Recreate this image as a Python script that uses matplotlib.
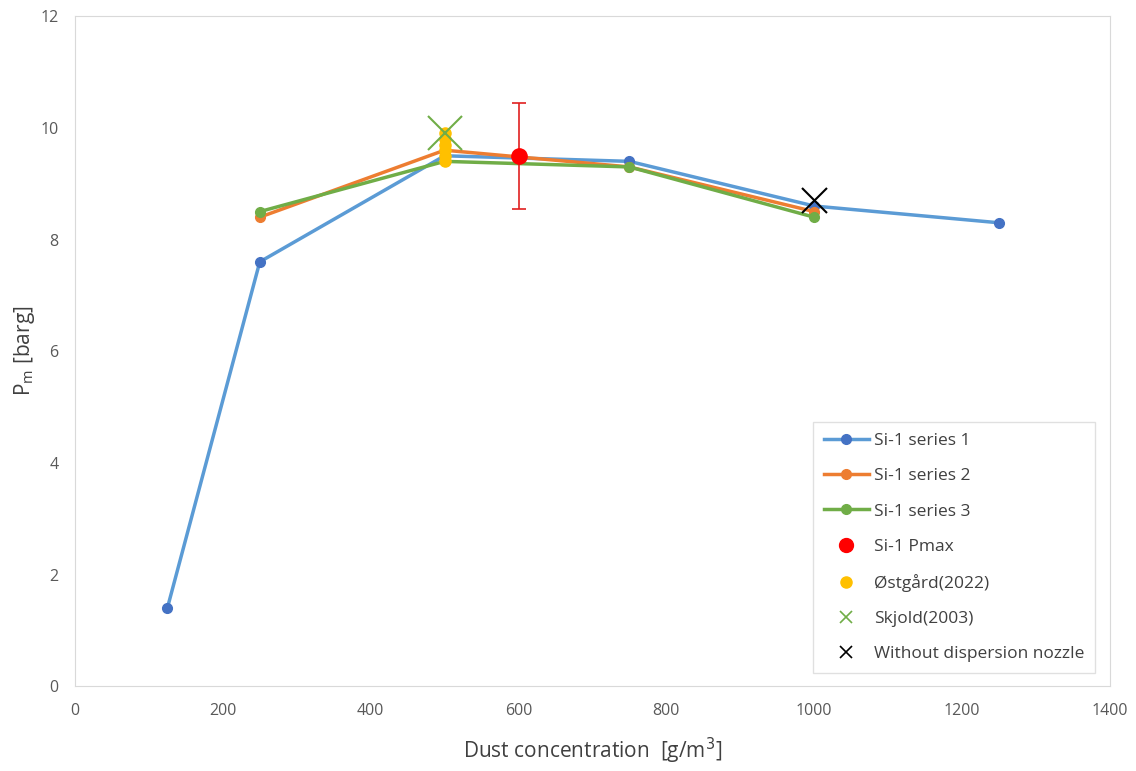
import numpy as np
import matplotlib
matplotlib.use("Agg")
from matplotlib import pyplot as plt
from matplotlib.lines import Line2D

plt.rcParams['font.family'] = ['Open Sans', 'DejaVu Sans']

# series 1
x1 = [125, 250, 500, 750, 1000, 1250]
y1 = [1.4, 7.6, 9.5, 9.4, 8.6, 8.3]
# series 2
x2 = [250, 500, 750, 1000]
y2 = [8.4, 9.6, 9.3, 8.5]
# series 3
x3 = [250, 500, 750, 1000]
y3 = [8.5, 9.4, 9.3, 8.4]
# Pmax with error
xp = [600]
yp = [9.5]
yp_err = [0.95]
# Ostgard 2022
xo = [500, 500, 500, 500, 500, 500]
yo = [9.4, 9.5, 9.6, 9.7, 9.8, 9.9]
# Skjold 2003
xs = [500]
ys = [9.9]
# without dispersion nozzle
xn = [1000]
yn = [8.7]

fig = plt.figure(figsize=(11.36, 7.71), dpi=100)
ax = fig.add_axes([0.066, 0.110, 0.911, 0.869])

ax.plot(x1, y1, color='#5B9BD5', lw=2.5, marker='o', ms=7, mfc='#4472C4', mec='#4472C4', zorder=3)
ax.plot(x2, y2, color='#ED7D31', lw=2.5, marker='o', ms=7, mfc='#ED7D31', mec='#ED7D31', zorder=3)
ax.plot(x3, y3, color='#70AD47', lw=2.5, marker='o', ms=7, mfc='#70AD47', mec='#70AD47', zorder=3)
ax.errorbar(xp, yp, yerr=yp_err, fmt='o', color='#FF0000', ms=11, ecolor='#E02020', elinewidth=1.2, capsize=5, capthick=1.2, zorder=5)
ax.plot(xo, yo, 'o', color='#FFC000', ms=8, zorder=4)
ax.plot(xs, ys, 'x', color='#70AD47', ms=24, mew=1.5, zorder=6)
ax.plot(xn, yn, 'x', color='black', ms=18, mew=1.5, zorder=6)

ax.set_xlim(0, 1400)
ax.set_ylim(0, 12)
ax.set_xticks(np.arange(0, 1401, 200))
ax.set_yticks(np.arange(0, 13, 2))
ax.tick_params(length=0, labelsize=11.5, colors='#595959', pad=12)
for s in ax.spines.values():
    s.set_color('#D9D9D9')

ax.set_xlabel('Dust concentration  [g/m$^3$]', fontsize=15, color='#404040', labelpad=12)
ax.set_ylabel('P$_\\mathregular{m}$ [barg]', fontsize=15, color='#404040', labelpad=2)

handles = [
    Line2D([], [], color='#5B9BD5', lw=2.5, marker='o', ms=7, mfc='#4472C4', mec='#4472C4'),
    Line2D([], [], color='#ED7D31', lw=2.5, marker='o', ms=7, mfc='#ED7D31', mec='#ED7D31'),
    Line2D([], [], color='#70AD47', lw=2.5, marker='o', ms=7, mfc='#70AD47', mec='#70AD47'),
    Line2D([], [], ls='none', marker='o', ms=10, color='#FF0000'),
    Line2D([], [], ls='none', marker='o', ms=8, color='#FFC000'),
    Line2D([], [], ls='none', marker='x', ms=9, mew=1.2, color='#70AD47'),
    Line2D([], [], ls='none', marker='x', ms=9, mew=1.2, color='black'),
]
labels = ['Si-1 series 1', 'Si-1 series 2', 'Si-1 series 3', 'Si-1 Pmax',
          'Østgård(2022)', 'Skjold(2003)', 'Without dispersion nozzle']
leg = ax.legend(handles, labels, loc='lower right', bbox_to_anchor=(0.9855, 0.02), fontsize=12.5, frameon=True,
                fancybox=False, edgecolor='#D9D9D9', labelspacing=1.1, handlelength=2.6, handletextpad=0.3,
                borderpad=0.6, borderaxespad=0, labelcolor='#404040')
leg.get_frame().set_linewidth(1)

fig.savefig('out.png', dpi=100)
